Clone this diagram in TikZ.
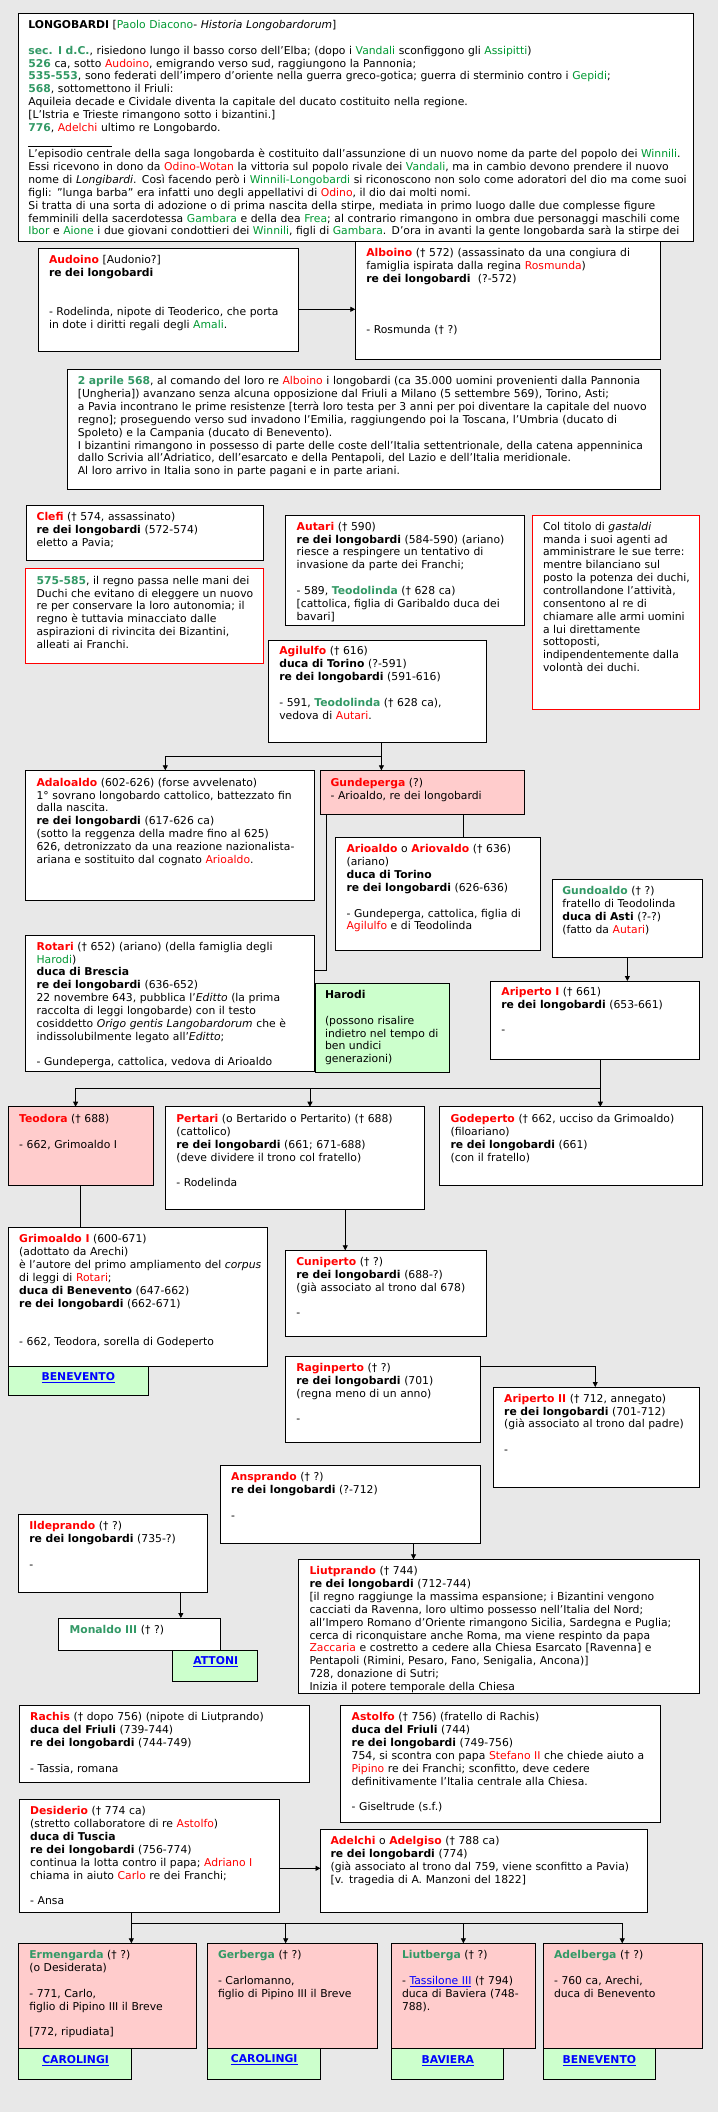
\documentclass[tikz,border=0pt]{standalone}
\usepackage{fontspec}
\setmainfont{DejaVu Sans}
\usetikzlibrary{arrows.meta}
\definecolor{bgc}{HTML}{E8E8E8}
\definecolor{nred}{HTML}{FF0000}
\definecolor{ngreen}{HTML}{009933}
\definecolor{dgreen}{HTML}{339966}
\definecolor{pinkf}{HTML}{FFCCCC}
\definecolor{greenf}{HTML}{CCFFCC}
\definecolor{lblue}{HTML}{0000FF}
\newcommand{\fsz}{\fontsize{10.8}{12.85}\selectfont}
\newcommand{\Rb}[1]{\textcolor{nred}{\textbf{#1}}}
\newcommand{\Rt}[1]{\textcolor{nred}{#1}}
\newcommand{\Gt}[1]{\textcolor{ngreen}{#1}}
\newcommand{\Gb}[1]{\textcolor{dgreen}{\textbf{#1}}}
\newcommand{\Lk}[1]{\textcolor{lblue}{\underline{\textbf{#1}}}}
\newcommand{\Lt}[1]{\textcolor{lblue}{\underline{#1}}}
\newcommand{\BL}{\mbox{}\\}
\newcommand{\BX}[6][]{\node[boxs,#1,anchor=north west,minimum width={(#5)-(#3)},minimum height={(#6)-(#4)}] (#2) at (#3,#4) {};}
\newcommand{\TX}[4]{\node[txt] (#1) at (#2,#3) {#4};}
\tikzset{
  boxs/.style={draw=black, fill=white, line width=0.9pt, inner sep=0pt, outer sep=0pt},
  redb/.style={draw=nred},
  pinkb/.style={fill=pinkf},
  greenb/.style={fill=greenf},
  txt/.style={inner sep=0pt, outer sep=0pt, text width=700pt, align=left, font=\fsz, anchor=base west},
  lnk/.style={inner sep=0pt, font=\fsz},
  arr/.style={line width=0.8pt, -{Triangle[length=5pt,width=5pt]}},
  plainln/.style={line width=0.8pt}
}
\begin{document}
\begin{tikzpicture}[x=1pt,y=-1pt]
\fill[bgc] (0,0) rectangle (718,2112);
\useasboundingbox (0,0) rectangle (718,2112);

% Alboino (behind top box)
\BX{alboino}{355.3}{232}{660.3}{359.3}
\TX{alboino-t}{366.3}{256.8}{\Rb{Alboino} († 572) (assassinato da una congiura di\\ famiglia ispirata dalla regina \Rt{Rosmunda})\\ \textbf{re dei longobardi}~~(?-572)\\ \BL\BL\BL - Rosmunda († ?)}

% top box
\BX{top}{18.3}{13}{693.7}{241}
\begin{scope}
\clip (top.north west) rectangle (top.south east);
\TX{top-a}{28.4}{28.5}{\textbf{LONGOBARDI} [\Gt{Paolo Diacono}- \textit{Historia Longobardorum}]\\ \BL
\Gb{sec. I d.C.}, risiedono lungo il basso corso dell'Elba; (dopo i \Gt{Vandali} sconfiggono gli \Gt{Assipitti})\\
\Gb{526} ca, sotto \Rt{Audoino}, emigrando verso sud, raggiungono la Pannonia;\\
\Gb{535-553}, sono federati dell'impero d'oriente nella guerra greco-gotica; guerra di sterminio contro i \Gt{Gepidi};\\
\Gb{568}, sottomettono il Friuli:\\
Aquileia decade e Cividale diventa la capitale del ducato costituito nella regione.\\
{[}L'Istria e Trieste rimangono sotto i bizantini.]\\
\Gb{776}, \Rt{Adelchi} ultimo re Longobardo.}
\TX{top-b}{28.4}{157.8}{L'episodio centrale della saga longobarda è costituito dall'assunzione di un nuovo nome da parte del popolo dei \Gt{Winnili}.\\
Essi ricevono in dono da \Rt{Odino-Wotan} la vittoria sul popolo rivale dei \Gt{Vandali}, ma in cambio devono prendere il nuovo\\
nome di \textit{Longibardi}. Così facendo però i \Gt{Winnili-Longobardi} si riconoscono non solo come adoratori del dio ma come suoi\\
figli: "lunga barba" era infatti uno degli appellativi di \Rt{Odino}, il dio dai molti nomi.\\
Si tratta di una sorta di adozione o di prima nascita della stirpe, mediata in primo luogo dalle due complesse figure\\
femminili della sacerdotessa \Gt{Gambara} e della dea \Gt{Frea}; al contrario rimangono in ombra due personaggi maschili come\\
\Gt{Ibor} e \Gt{Aione} i due giovani condottieri dei \Gt{Winnili}, figli di \Gt{Gambara}. D'ora in avanti la gente longobarda sarà la stirpe dei}
\end{scope}
\draw[line width=0.8pt] (28.4,146) -- (112,146);

% Audoino
\BX{audoino}{38.5}{248}{298.6}{351}
\TX{audoino-t}{49}{263.8}{\Rb{Audoino} [Audonio?]\\ \textbf{re dei longobardi}\\ \BL\BL - Rodelinda, nipote di Teoderico, che porta\\ in dote i diritti regali degli \Gt{Amali}.}

% invasion
\BX{invasione}{67.3}{369.3}{660.3}{489}
\TX{invasione-t}{77.8}{384.8}{\Gb{2 aprile 568}, al comando del loro re \Rt{Alboino} i longobardi (ca 35.000 uomini provenienti dalla Pannonia\\
{[}Ungheria]) avanzano senza alcuna opposizione dal Friuli a Milano (5 settembre 569), Torino, Asti;\\
a Pavia incontrano le prime resistenze [terrà loro testa per 3 anni per poi diventare la capitale del nuovo\\
regno]; proseguendo verso sud invadono l'Emilia, raggiungendo poi la Toscana, l'Umbria (ducato di\\
Spoleto) e la Campania (ducato di Benevento).\\
I bizantini rimangono in possesso di parte delle coste dell'Italia settentrionale, della catena appenninica\\
dallo Scrivia all'Adriatico, dell'esarcato e della Pentapoli, del Lazio e dell'Italia meridionale.\\
Al loro arrivo in Italia sono in parte pagani e in parte ariani.}

% Clefi
\BX{clefi}{26.1}{505.3}{263.8}{560.3}
\TX{clefi-t}{36.6}{520.5}{\Rb{Clefi} († 574, assassinato)\\ \textbf{re dei longobardi} (572-574)\\ eletto a Pavia;}

% 575-585
\BX[redb]{duchi}{25.6}{568.7}{263.8}{663.3}
\TX{duchi-t}{36.6}{584.2}{\Gb{575-585}, il regno passa nelle mani dei\\ Duchi che evitano di eleggere un nuovo\\ re per conservare la loro autonomia; il\\ regno è tuttavia minacciato dalle\\ aspirazioni di rivincita dei Bizantini,\\ alleati ai Franchi.}

% Autari
\BX{autari}{285.7}{515.3}{524.3}{625.3}
\begin{scope}
\clip (autari.north west) rectangle (autari.south east);
\TX{autari-t}{296.7}{530.2}{\Rb{Autari} († 590)\\ \textbf{re dei longobardi} (584-590) (ariano)\\ riesce a respingere un tentativo di\\ invasione da parte dei Franchi;\\ \BL - 589, \Gb{Teodolinda} († 628 ca)\\ {[}cattolica, figlia di Garibaldo duca dei\\ bavari]}
\end{scope}

% gastaldi
\BX[redb]{gastaldi}{532.5}{515.3}{699.7}{709.3}
\TX{gastaldi-t}{543}{530.2}{Col titolo di \textit{gastaldi}\\ manda i suoi agenti ad\\ amministrare le sue terre:\\ mentre bilanciano sul\\ posto la potenza dei duchi,\\ controllandone l'attività,\\ consentono al re di\\ chiamare alle armi uomini\\ a lui direttamente\\ sottoposti,\\ indipendentemente dalla\\ volontà dei duchi.}

% Agilulfo
\BX{agilulfo}{268.3}{640.3}{486.3}{742.3}
\TX{agilulfo-t}{279.3}{654.8}{\Rb{Agilulfo} († 616)\\ \textbf{duca di Torino} (?-591)\\ \textbf{re dei longobardi} (591-616)\\ \BL - 591, \Gb{Teodolinda} († 628 ca),\\ vedova di \Rt{Autari}.}

% Adaloaldo
\BX{adaloaldo}{25.6}{770.3}{314.6}{900}
\TX{adaloaldo-t}{36.6}{786.2}{\Rb{Adaloaldo} (602-626) (forse avvelenato)\\ 1° sovrano longobardo cattolico, battezzato fin\\ dalla nascita.\\ \textbf{re dei longobardi} (617-626 ca)\\ (sotto la reggenza della madre fino al 625)\\ 626, detronizzato da una reazione nazionalista-\\ ariana e sostituito dal cognato \Rt{Arioaldo}.}

% Gundeperga
\BX[pinkb]{gundeperga}{320.5}{770.3}{524.3}{814.3}
\TX{gundeperga-t}{330.6}{786.2}{\Rb{Gundeperga} (?)\\ - Arioaldo, re dei longobardi}

% Arioaldo
\BX{arioaldo}{335.6}{837.3}{540.3}{950.3}
\TX{arioaldo-t}{346.6}{852.8}{\Rb{Arioaldo} o \Rb{Ariovaldo} († 636)\\ (ariano)\\ \textbf{duca di Torino}\\ \textbf{re dei longobardi} (626-636)\\ \BL - Gundeperga, cattolica, figlia di\\ \Rt{Agilulfo} e di Teodolinda}

% Gundoaldo
\BX{gundoaldo}{552.7}{879}{702}{957.3}
\TX{gundoaldo-t}{562.3}{894.5}{\Gb{Gundoaldo} († ?)\\ fratello di Teodolinda\\ \textbf{duca di Asti} (?-?)\\ (fatto da \Rt{Autari})}

% Rotari
\BX{rotari}{25.6}{935.3}{314.6}{1071.7}
\begin{scope}
\clip (rotari.north west) rectangle (rotari.south east);
\TX{rotari-t}{36.6}{950.2}{\Rb{Rotari} († 652) (ariano) (della famiglia degli\\ \Gt{Harodi})\\ \textbf{duca di Brescia}\\ \textbf{re dei longobardi} (636-652)\\ 22 novembre 643, pubblica l'\textit{Editto} (la prima\\ raccolta di leggi longobarde) con il testo\\ cosiddetto \textit{Origo gentis Langobardorum} che è\\ indissolubilmente legato all'\textit{Editto};\\ \BL - Gundeperga, cattolica, vedova di Arioaldo}
\end{scope}

% Harodi
\BX[greenb]{harodi}{315}{983.3}{449.7}{1072}
\TX{harodi-t}{325}{998.5}{\textbf{Harodi}\\ \BL (possono risalire\\ indietro nel tempo di\\ ben undici\\ generazioni)}

% Ariperto I
\BX{ariperto1}{490.4}{981}{699.7}{1059.3}
\TX{ariperto1-t}{501.4}{995.2}{\Rb{Ariperto I} († 661)\\ \textbf{re dei longobardi} (653-661)\\ \BL -}

% Teodora, Pertari, Godeperto
\BX[pinkb]{teodora}{8.2}{1106.7}{153.4}{1185.3}
\TX{teodora-t}{19.2}{1122.5}{\Rb{Teodora} († 688)\\ \BL - 662, Grimoaldo I}
\BX{pertari}{165.8}{1106.7}{424.5}{1209.3}
\TX{pertari-t}{176.3}{1122.5}{\Rb{Pertari} (o Bertarido o Pertarito) († 688)\\ (cattolico)\\ \textbf{re dei longobardi} (661; 671-688)\\ (deve dividere il trono col fratello)\\ \BL - Rodelinda}
\BX{godeperto}{439.6}{1106.7}{702}{1185.3}
\TX{godeperto-t}{450.6}{1122.5}{\Rb{Godeperto} († 662, ucciso da Grimoaldo)\\ (filoariano)\\ \textbf{re dei longobardi} (661)\\ (con il fratello)}

% Grimoaldo + Benevento
\BX[greenb]{benev1}{8.2}{1366.3}{148.4}{1395.3}
\node[lnk] (benev1-t) at (78.3,1378) {\Lk{BENEVENTO}};
\BX{grimoaldo}{8.2}{1227.7}{267.9}{1366.3}
\TX{grimoaldo-t}{19.2}{1242.8}{\Rb{Grimoaldo I} (600-671)\\ (adottato da Arechi)\\ è l'autore del primo ampliamento del \textit{corpus}\\ di leggi di \Rt{Rotari};\\ \textbf{duca di Benevento} (647-662)\\ \textbf{re dei longobardi} (662-671)\\ \BL\BL - 662, Teodora, sorella di Godeperto}

% Cuniperto, Raginperto, Ariperto II
\BX{cuniperto}{285.3}{1250.3}{486.3}{1336}
\TX{cuniperto-t}{296.3}{1265.5}{\Rb{Cuniperto} († ?)\\ \textbf{re dei longobardi} (688-?)\\ (già associato al trono dal 678)\\ \BL -}
\BX{raginperto}{285.3}{1356.3}{480.3}{1442}
\TX{raginperto-t}{296.3}{1371.5}{\Rb{Raginperto} († ?)\\ \textbf{re dei longobardi} (701)\\ (regna meno di un anno)\\ \BL -}
\BX{ariperto2}{493.2}{1387}{699.7}{1487.3}
\TX{ariperto2-t}{504.2}{1402.2}{\Rb{Ariperto II} († 712, annegato)\\ \textbf{re dei longobardi} (701-712)\\ (già associato al trono dal padre)\\ \BL -}

% Ansprando, Ildeprando, Liutprando
\BX{ansprando}{220.3}{1465.3}{480.3}{1543.3}
\TX{ansprando-t}{231.2}{1480.8}{\Rb{Ansprando} († ?)\\ \textbf{re dei longobardi} (?-712)\\ \BL -}
\BX{ildeprando}{18.3}{1514.3}{207.4}{1592.3}
\TX{ildeprando-t}{29.3}{1529.8}{\Rb{Ildeprando} († ?)\\ \textbf{re dei longobardi} (735-?)\\ \BL -}
\BX{liutprando}{298.6}{1559.3}{699.7}{1693.3}
\begin{scope}
\clip (liutprando.north west) rectangle (liutprando.south east);
\TX{liutprando-t}{309.5}{1574.8}{\Rb{Liutprando} († 744)\\ \textbf{re dei longobardi} (712-744)\\ {[}il regno raggiunge la massima espansione; i Bizantini vengono\\ cacciati da Ravenna, loro ultimo possesso nell'Italia del Nord;\\ all'Impero Romano d'Oriente rimangono Sicilia, Sardegna e Puglia;\\ cerca di riconquistare anche Roma, ma viene respinto da papa\\ \Rt{Zaccaria} e costretto a cedere alla Chiesa Esarcato [Ravenna] e\\ Pentapoli (Rimini, Pesaro, Fano, Senigalia, Ancona)]\\ 728, donazione di Sutri;\\ Inizia il potere temporale della Chiesa}
\end{scope}

% Monaldo + Attoni
\BX[greenb]{attoni}{172.6}{1650}{257.3}{1681.3}
\node[lnk] (attoni-t) at (215.7,1662) {\Lk{ATTONI}};
\BX{monaldo}{58.6}{1618}{220.3}{1650}
\TX{monaldo-t}{69.6}{1633.5}{\Gb{Monaldo III} († ?)}

% Rachis, Astolfo
\BX{rachis}{19.2}{1705.3}{309.5}{1782.3}
\TX{rachis-t}{30.2}{1720.8}{\Rb{Rachis} († dopo 756) (nipote di Liutprando)\\ \textbf{duca del Friuli} (739-744)\\ \textbf{re dei longobardi} (744-749)\\ \BL - Tassia, romana}
\BX{astolfo}{340.7}{1705.3}{660.3}{1822}
\TX{astolfo-t}{351.7}{1720.8}{\Rb{Astolfo} († 756) (fratello di Rachis)\\ \textbf{duca del Friuli} (744)\\ \textbf{re dei longobardi} (749-756)\\ 754, si scontra con papa \Rt{Stefano II} che chiede aiuto a\\ \Rt{Pipino} re dei Franchi; sconfitto, deve cedere\\ definitivamente l'Italia centrale alla Chiesa.\\ \BL - Giseltrude (s.f.)}

% Desiderio, Adelchi
\BX{desiderio}{19.2}{1799.3}{279.3}{1912.3}
\TX{desiderio-t}{30.2}{1814.8}{\Rb{Desiderio} († 774 ca)\\ (stretto collaboratore di re \Rt{Astolfo})\\ \textbf{duca di Tuscia}\\ \textbf{re dei longobardi} (756-774)\\ continua la lotta contro il papa; \Rt{Adriano I}\\ chiama in aiuto \Rt{Carlo} re dei Franchi;\\ \BL - Ansa}
\BX{adelchi}{320.5}{1829.3}{647.9}{1912.3}
\TX{adelchi-t}{330.6}{1844.5}{\Rb{Adelchi} o \Rb{Adelgiso} († 788 ca)\\ \textbf{re dei longobardi} (774)\\ (già associato al trono dal 759, viene sconfitto a Pavia)\\ {[}v. tragedia di A. Manzoni del 1822]}

% daughters
\BX[greenb]{carol1}{18.3}{2048.3}{131.4}{2079.3}
\node[lnk] (carol1-t) at (75.6,2061) {\Lk{CAROLINGI}};
\BX[pinkb]{ermengarda}{18.3}{1943.3}{196.4}{2048.3}
\TX{ermengarda-t}{29.3}{1958.8}{\Gb{Ermengarda} († ?)\\ (o Desiderata)\\ \BL - 771, Carlo,\\ figlio di Pipino III il Breve\\ \BL {[}772, ripudiata]}
\BX[greenb]{carol2}{207.4}{2048.3}{320.5}{2079.3}
\node[lnk] (carol2-t) at (264.2,2060) {\Lk{CAROLINGI}};
\BX[pinkb]{gerberga}{207.4}{1943.3}{377.3}{2048.3}
\TX{gerberga-t}{218}{1958.8}{\Gb{Gerberga} († ?)\\ \BL - Carlomanno,\\ figlio di Pipino III il Breve}
\BX[greenb]{baviera}{391.5}{2048.3}{503.7}{2079.3}
\node[lnk] (baviera-t) at (447.8,2061) {\Lk{BAVIERA}};
\BX[pinkb]{liutberga}{391.5}{1943.3}{535.3}{2048.3}
\TX{liutberga-t}{402}{1958.8}{\Gb{Liutberga} († ?)\\ \BL - \Lt{Tassilone III} († 794)\\ duca di Baviera (748-\\ 788).}
\BX[greenb]{benev2}{543.5}{2048.3}{655.3}{2079.3}
\node[lnk] (benev2-t) at (599.4,2061) {\Lk{BENEVENTO}};
\BX[pinkb]{adelberga}{543.5}{1943.3}{702.4}{2048.3}
\TX{adelberga-t}{554}{1958.8}{\Gb{Adelberga} († ?)\\ \BL - 760 ca, Arechi,\\ duca di Benevento}

% connectors
\coordinate (c-aud) at ([yshift=-9.8pt]audoino.east);
\draw[arr] (c-aud) -- (c-aud -| alboino.west);

\coordinate (c-agi) at ([xshift=4.1pt]agilulfo.south);
\draw[arr] (c-agi) -- (c-agi |- gundeperga.north);
\draw[arr] (c-agi) -- ++(0,14) -| ([xshift=-4.8pt]adaloaldo.north);

\coordinate (c-gun1) at ([xshift=41pt]gundeperga.south);
\draw[plainln] (c-gun1) -- (c-gun1 |- arioaldo.north);
\coordinate (c-gun2) at ([xshift=-95.9pt]gundeperga.south);
\coordinate (c-rot) at ([yshift=33.5pt]rotari.east);
\draw[plainln] (c-gun2) |- (c-rot);

\draw[arr] (gundoaldo.south) -- (gundoaldo.south |- ariperto1.north);

\coordinate (c-ari) at ([xshift=5.3pt]ariperto1.south);
\draw[arr] (c-ari) -- (c-ari |- godeperto.north);
\draw[arr] (c-ari) ++(0,29) -| ([xshift=-5.2pt]teodora.north);
\draw[arr] (c-ari) ++(0,29) -| ([xshift=14.8pt]pertari.north);

\draw[plainln] (teodora.south) -- (teodora.south |- grimoaldo.north);

\coordinate (c-per) at ([xshift=50.1pt]pertari.south);
\draw[arr] (c-per) -- (c-per |- cuniperto.north);

\coordinate (c-rag) at ([yshift=-10pt]raginperto.north east);
\draw[arr] (c-rag) -| ([xshift=-1.2pt]ariperto2.north);

\coordinate (c-ans) at ([xshift=63.2pt]ansprando.south);
\draw[arr] (c-ans) -- (c-ans |- liutprando.north);

\coordinate (c-ild) at ([xshift=68pt]ildeprando.south);
\draw[arr] (c-ild) -- (c-ild |- monaldo.north);

\coordinate (c-des) at ([yshift=-12.5pt]desiderio.east);
\draw[arr] (c-des) -- (c-des -| adelchi.west);

\coordinate (c-dd) at ([xshift=-17.9pt]desiderio.south);
\draw[arr] (c-dd) -- (c-dd |- ermengarda.north);
\draw[arr] (c-dd) ++(0,11) -| ([xshift=-6.7pt]gerberga.north);
\draw[arr] (c-dd) ++(0,11) -| (liutberga.north);
\draw[arr] (c-dd) ++(0,11) -| ([xshift=-0.7pt]adelberga.north);
\end{tikzpicture}
\end{document}
